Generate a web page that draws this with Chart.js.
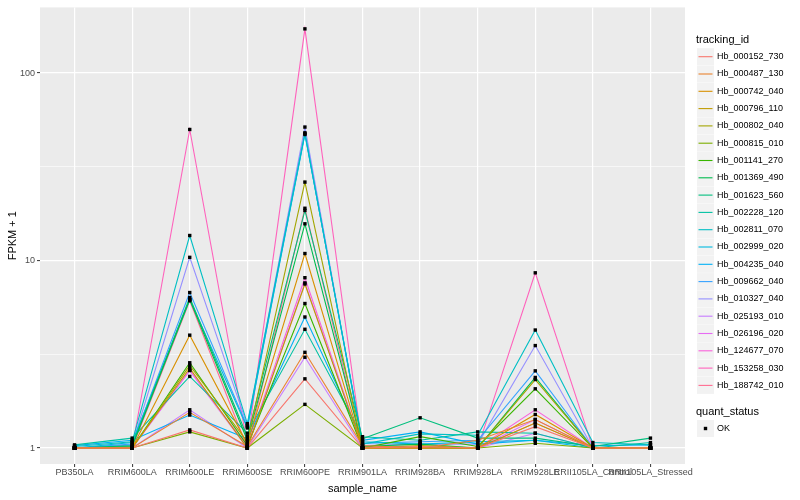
<!DOCTYPE html>
<html>
<head>
<meta charset="utf-8">
<script src="https://cdn.jsdelivr.net/npm/chart.js@4/dist/chart.umd.min.js"></script>
<style>
  body { margin: 0; background: #fff; }
  #wrap { width: 800px; height: 500px; }
</style>
</head>
<body>
<div id="wrap"><canvas id="chart" width="800" height="500"></canvas></div>
<script>
// sample names on the x axis
const sampleNames = ['PB350LA', 'RRIM600LA', 'RRIM600LE', 'RRIM600SE', 'RRIM600PE', 'RRIM901LA',
  'RRIM928BA', 'RRIM928LA', 'RRIM928LE', 'RRII105LA_Control', 'RRII105LA_Stressed'];

const trackingIds = ['Hb_000152_730', 'Hb_000487_130', 'Hb_000742_040', 'Hb_000796_110', 'Hb_000802_040',
  'Hb_000815_010', 'Hb_001141_270', 'Hb_001369_490', 'Hb_001623_560', 'Hb_002228_120', 'Hb_002811_070',
  'Hb_002999_020', 'Hb_004235_040', 'Hb_009662_040', 'Hb_010327_040', 'Hb_025193_010', 'Hb_026196_020',
  'Hb_124677_070', 'Hb_153258_030', 'Hb_188742_010'];

// ggplot hue palette, 20 levels
const lineColors = ['#F8766D', '#EA8331', '#D89000', '#C09B00', '#A3A500', '#7CAE00', '#39B600', '#00BB4E',
  '#00BF7D', '#00C1A3', '#00BFC4', '#00BAE0', '#00B0F6', '#35A2FF', '#9590FF', '#C77CFF', '#E76BF3',
  '#FA62DB', '#FF62BC', '#FF6C91'];

// FPKM + 1, one row per tracking_id, one column per sample
const fpkmPlus1 = [
  [1.00, 1.00, 1.25, 1.00, 2.34, 1.00, 1.02, 1.00, 1.30, 1.00, 1.00],
  [1.00, 1.00, 1.55, 1.02, 3.24, 1.03, 1.00, 1.10, 1.42, 1.00, 1.00],
  [1.00, 1.00, 4.00, 1.05, 10.9, 1.00, 1.00, 1.00, 1.51, 1.00, 1.00],
  [1.00, 1.00, 2.67, 1.00, 7.50, 1.00, 1.00, 1.00, 1.36, 1.00, 1.00],
  [1.00, 1.00, 2.76, 1.08, 26.2, 1.00, 1.03, 1.00, 2.32, 1.00, 1.00],
  [1.00, 1.00, 1.22, 1.00, 1.71, 1.00, 1.00, 1.00, 1.06, 1.00, 1.00],
  [1.00, 1.00, 2.85, 1.03, 5.90, 1.00, 1.15, 1.02, 2.07, 1.00, 1.00],
  [1.00, 1.02, 6.20, 1.10, 15.7, 1.02, 1.05, 1.00, 2.38, 1.00, 1.00],
  [1.00, 1.03, 6.35, 1.15, 18.5, 1.12, 1.45, 1.13, 1.13, 1.02, 1.13],
  [1.04, 1.13, 2.41, 1.20, 4.30, 1.15, 1.10, 1.22, 1.20, 1.00, 1.07],
  [1.02, 1.08, 13.6, 1.35, 48.0, 1.05, 1.19, 1.17, 4.26, 1.07, 1.04],
  [1.00, 1.07, 6.20, 1.28, 47.0, 1.08, 1.05, 1.08, 1.10, 1.00, 1.00],
  [1.03, 1.10, 1.50, 1.12, 5.00, 1.10, 1.22, 1.05, 1.10, 1.03, 1.04],
  [1.00, 1.05, 6.75, 1.30, 47.5, 1.06, 1.08, 1.10, 2.58, 1.00, 1.00],
  [1.00, 1.04, 10.4, 1.32, 51.5, 1.03, 1.05, 1.05, 3.52, 1.00, 1.00],
  [1.00, 1.00, 1.60, 1.00, 3.05, 1.00, 1.00, 1.00, 1.20, 1.00, 1.00],
  [1.00, 1.00, 2.59, 1.00, 7.60, 1.00, 1.00, 1.00, 1.42, 1.00, 1.00],
  [1.00, 1.00, 2.60, 1.02, 8.10, 1.00, 1.00, 1.00, 1.60, 1.00, 1.00],
  [1.00, 1.00, 50.0, 1.05, 172, 1.00, 1.00, 1.00, 8.60, 1.00, 1.00],
  [1.00, 1.00, 6.10, 1.00, 19.0, 1.00, 1.00, 1.00, 1.36, 1.00, 1.00]
];

const yTicks = [1, 3.1623, 10, 31.623, 100];
const yLabels = [1, 10, 100];

const FONT = '"Liberation Sans", Arial, sans-serif';

// gray panel background
const panelBg = {
  id: 'panelBg',
  beforeDraw(chart) {
    const { ctx, chartArea: a } = chart;
    ctx.save();
    ctx.fillStyle = '#EBEBEB';
    ctx.fillRect(a.left, a.top, a.right - a.left, a.bottom - a.top);
    ctx.restore();
  }
};

// points drawn after all lines, like geom_point on top of geom_line
const blackPoints = {
  id: 'blackPoints',
  afterDatasetsDraw(chart) {
    const ctx = chart.ctx;
    ctx.save();
    ctx.fillStyle = '#000';
    chart.data.datasets.forEach((ds, i) => {
      chart.getDatasetMeta(i).data.forEach(pt => {
        ctx.fillRect(pt.x - 1.7, pt.y - 1.7, 3.4, 3.4);
      });
    });
    ctx.restore();
  }
};

// ggplot style legend on the right
const sideLegend = {
  id: 'sideLegend',
  afterDraw(chart) {
    const ctx = chart.ctx;
    ctx.save();
    ctx.textBaseline = 'middle';
    ctx.fillStyle = '#000';
    ctx.font = '11px ' + FONT;
    ctx.fillText('tracking_id', 696, 40);
    ctx.font = '9px ' + FONT;
    trackingIds.forEach((id, i) => {
      const y = 56.7 + i * 17.3;
      ctx.fillStyle = '#F2F2F2';
      ctx.fillRect(697, y - 8.5, 17, 17);
      ctx.strokeStyle = lineColors[i];
      ctx.lineWidth = 1.1;
      ctx.beginPath();
      ctx.moveTo(698.5, y);
      ctx.lineTo(712.5, y);
      ctx.stroke();
      ctx.fillStyle = '#000';
      ctx.fillText(id, 717, y);
    });
    ctx.font = '11px ' + FONT;
    ctx.fillText('quant_status', 696, 412);
    ctx.fillStyle = '#F2F2F2';
    ctx.fillRect(697, 420, 17, 17);
    ctx.fillStyle = '#000';
    ctx.fillRect(703.8, 426.8, 3.4, 3.4);
    ctx.font = '9px ' + FONT;
    ctx.fillText('OK', 717, 428.5);
    ctx.restore();
  }
};

const datasets = fpkmPlus1.map((row, i) => ({
  label: trackingIds[i],
  data: row.map((v, j) => ({ x: j, y: v })),
  borderColor: lineColors[i],
  backgroundColor: lineColors[i],
  borderWidth: 1.1,
  pointRadius: 0,
  tension: 0
}));

new Chart(document.getElementById('chart'), {
  type: 'line',
  data: { datasets: datasets },
  options: {
    responsive: false,
    animation: false,
    events: [],
    layout: { padding: { top: 5, right: 115, left: 0, bottom: 0 } },
    plugins: { legend: { display: false }, tooltip: { enabled: false } },
    scales: {
      x: {
        type: 'linear',
        min: -0.6,
        max: 10.6,
        afterBuildTicks: s => { s.ticks = sampleNames.map((n, i) => ({ value: i })); },
        afterFit: s => { s.height = 36; },
        ticks: {
          autoSkip: false,
          maxRotation: 0,
          minRotation: 0,
          padding: 0,
          color: '#4D4D4D',
          font: { family: FONT, size: 9 },
          callback: v => sampleNames[v]
        },
        grid: { color: '#FFFFFF', lineWidth: 1.2, tickLength: 3, tickColor: '#333333', tickWidth: 1 },
        border: { display: false },
        title: { display: true, text: 'sample_name', color: '#000', font: { family: FONT, size: 11 }, padding: { top: 0, bottom: 4 } }
      },
      y: {
        type: 'logarithmic',
        min: Math.pow(10, -0.085),
        max: Math.pow(10, 2.35),
        afterBuildTicks: s => { s.ticks = yTicks.map(v => ({ value: v })); },
        afterFit: s => { s.width = 40; },
        ticks: {
          padding: 2,
          color: '#4D4D4D',
          font: { family: FONT, size: 9 },
          callback: v => (yLabels.includes(v) ? String(v) : '')
        },
        grid: {
          color: '#FFFFFF',
          lineWidth: c => (yLabels.includes(c.tick.value) ? 1.2 : 0.6),
          tickLength: 3,
          tickColor: c => (yLabels.includes(c.tick.value) ? '#333333' : 'rgba(0,0,0,0)'),
          tickWidth: 1
        },
        border: { display: false },
        title: { display: true, text: 'FPKM + 1', color: '#000', font: { family: FONT, size: 11 }, padding: { top: 6, bottom: 2 } }
      }
    }
  },
  plugins: [panelBg, blackPoints, sideLegend]
});
</script>
</body>
</html>
